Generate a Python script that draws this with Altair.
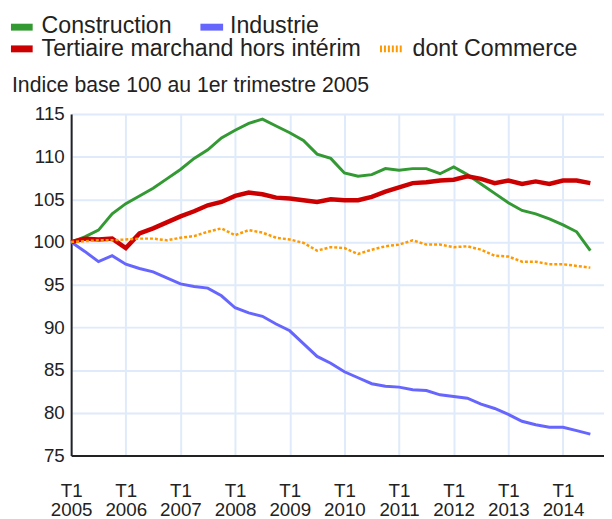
import altair as alt
import pandas as pd

# ---------------- data (quarterly, T1 2005 .. T3 2014) ----------------
years = list(range(2005, 2015))
quarters = list(range(39))

construction = [100.0, 100.6, 101.4, 103.3, 104.5, 105.4, 106.3, 107.4, 108.5, 109.8,
                110.8, 112.2, 113.1, 113.9, 114.4, 113.6, 112.8, 111.9, 110.3, 109.8,
                108.1, 107.7, 107.9, 108.6, 108.4, 108.6, 108.6, 108.0, 108.8, 107.9,
                106.8, 105.7, 104.6, 103.7, 103.3, 102.7, 102.0, 101.2, 99.0]
industrie = [100.0, 98.9, 97.7, 98.4, 97.4, 96.9, 96.5, 95.8, 95.1, 94.8,
             94.6, 93.7, 92.3, 91.7, 91.3, 90.4, 89.6, 88.1, 86.6, 85.8,
             84.8, 84.1, 83.4, 83.1, 83.0, 82.7, 82.6, 82.1, 81.9, 81.7,
             81.0, 80.5, 79.8, 79.0, 78.6, 78.3, 78.3, 77.9, 77.5]
tertiaire = [100.0, 100.4, 100.3, 100.4, 99.3, 101.0, 101.6, 102.3, 103.0, 103.6,
             104.3, 104.7, 105.4, 105.8, 105.6, 105.2, 105.1, 104.9, 104.7, 105.0,
             104.9, 104.9, 105.3, 105.9, 106.4, 106.9, 107.0, 107.2, 107.3, 107.7,
             107.4, 106.9, 107.2, 106.8, 107.1, 106.8, 107.2, 107.2, 106.9]
commerce = [100.0, 100.1, 100.2, 100.2, 100.3, 100.4, 100.4, 100.2, 100.5, 100.7,
            101.2, 101.6, 100.8, 101.4, 101.1, 100.5, 100.3, 99.9, 99.0, 99.4,
            99.3, 98.6, 99.1, 99.5, 99.7, 100.2, 99.7, 99.7, 99.4, 99.5,
            99.1, 98.4, 98.3, 97.7, 97.7, 97.4, 97.4, 97.2, 97.0]

series_names = ["Construction", "Industrie", "Tertiaire marchand hors intérim", "dont Commerce"]
series_colors = ["#339933", "#6666ff", "#cc0000", "#ff9900"]
subtitle = "Indice base 100 au 1er trimestre 2005"
y_ticks = [75, 80, 85, 90, 95, 100, 105, 110, 115]
x_tick_positions = [4 * (y - years[0]) for y in years]

FONT = "Liberation Sans"
TEXT_COLOR = "#222222"


def series_df(vals, name):
    return pd.DataFrame({"q": quarters, "v": vals, "s": name})


x_enc = alt.X(
    "q:Q",
    scale=alt.Scale(domain=[0, 39], nice=False, zero=False),
    axis=alt.Axis(
        values=x_tick_positions,
        labelExpr=f"['T1', '' + ({years[0]} + datum.value / 4)]",
        title=None,
        ticks=False,
        labelPadding=27,
        labelLineHeight=19,
        labelAlign="center",
        labelBaseline="top",
    ),
)
y_enc = alt.Y(
    "v:Q",
    scale=alt.Scale(domain=[75, 115], nice=False, zero=False),
    axis=alt.Axis(values=y_ticks, title=None, ticks=False, labelPadding=7),
)

styles = [
    dict(strokeWidth=3),
    dict(strokeWidth=3),
    dict(strokeWidth=4.5),
    dict(strokeWidth=2.5, strokeDash=[3, 2]),
]
data_lists = [construction, industrie, tertiaire, commerce]

line_layers = []
for vals, name, col, st in zip(data_lists, series_names, series_colors, styles):
    line_layers.append(
        alt.Chart(series_df(vals, name))
        .mark_line(color=col, strokeCap="butt", **st)
        .encode(x=x_enc, y=y_enc)
    )

one = pd.DataFrame({"k": [0]})

# ---------------- manual legend (plot-relative pixels) ----------------
legend_layers = []
# row 1
legend_layers.append(alt.Chart(one).mark_rect(color=series_colors[0]).encode(
    x=alt.value(-61), x2=alt.value(-39), y=alt.value(-91.5), y2=alt.value(-84.5)))
legend_layers.append(alt.Chart(one).mark_text(
    text=series_names[0], align="left", baseline="alphabetic", font=FONT, fontSize=23.5,
    color=TEXT_COLOR).encode(x=alt.value(-30), y=alt.value(-82)))
legend_layers.append(alt.Chart(one).mark_rect(color=series_colors[1]).encode(
    x=alt.value(131), x2=alt.value(154), y=alt.value(-91.5), y2=alt.value(-84.5)))
legend_layers.append(alt.Chart(one).mark_text(
    text=series_names[1], align="left", baseline="alphabetic", font=FONT, fontSize=23.5,
    color=TEXT_COLOR).encode(x=alt.value(161), y=alt.value(-82)))
# row 2
legend_layers.append(alt.Chart(one).mark_rect(color=series_colors[2]).encode(
    x=alt.value(-61), x2=alt.value(-39), y=alt.value(-69.5), y2=alt.value(-62.5)))
legend_layers.append(alt.Chart(one).mark_text(
    text=series_names[2], align="left", baseline="alphabetic", font=FONT, fontSize=23.5,
    color=TEXT_COLOR).encode(x=alt.value(-30), y=alt.value(-59)))
legend_layers.append(alt.Chart(one).mark_rule(
    color=series_colors[3], strokeWidth=7, strokeDash=[2, 2]).encode(
    x=alt.value(313), x2=alt.value(335), y=alt.value(-66)))
legend_layers.append(alt.Chart(one).mark_text(
    text=series_names[3], align="left", baseline="alphabetic", font=FONT, fontSize=23.5,
    color=TEXT_COLOR).encode(x=alt.value(346), y=alt.value(-59)))
# subtitle
legend_layers.append(alt.Chart(one).mark_text(
    text=subtitle, align="left", baseline="alphabetic", font=FONT, fontSize=21.5,
    color=TEXT_COLOR).encode(x=alt.value(-60), y=alt.value(-22)))

chart = (
    alt.layer(*line_layers, *legend_layers)
    .properties(
        width=540,
        height=346,
        autosize=alt.AutoSizeParams(type="none"),
        padding={"left": 64, "top": 104, "right": 0, "bottom": 60},
        background="white",
    )
    .configure_view(stroke=None)
    .configure_axis(
        domainColor="#222222",
        domainWidth=2,
        gridColor="#dfeafa",
        gridWidth=2,
        labelFont=FONT,
        labelFontSize=19,
        labelColor=TEXT_COLOR,
    )
)

chart.save("out.html", embed_options={"renderer": "svg", "actions": False})
